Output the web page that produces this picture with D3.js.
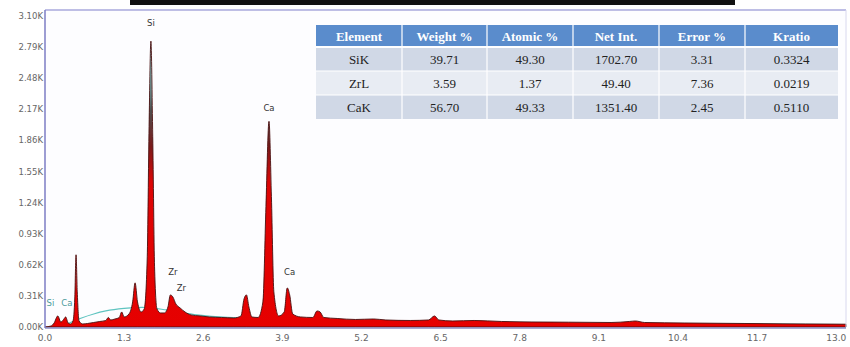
<!DOCTYPE html>
<html>
<head>
<meta charset="utf-8">
<script src="https://cdn.jsdelivr.net/npm/d3@7"></script>
<style>
  body { margin: 0; background: #fff; }
  svg { display: block; }
</style>
</head>
<body>
<svg id="chart" width="850" height="347"></svg>
<script>
// spectrum: energy (keV) and counts
var energy = [0.00, 0.10, 0.15, 0.21, 0.26, 0.30, 0.34, 0.38, 0.42, 0.46, 0.49, 0.51, 0.53, 0.56, 0.62,
  0.70, 0.80, 0.90, 1.00, 1.04, 1.08, 1.15, 1.22, 1.26, 1.30, 1.38, 1.44, 1.48, 1.52, 1.58, 1.63,
  1.68, 1.71, 1.74, 1.77, 1.80, 1.84, 1.90, 1.96, 2.02, 2.06, 2.10, 2.15, 2.22, 2.30, 2.40, 2.55,
  2.70, 2.90, 3.10, 3.22, 3.27, 3.31, 3.35, 3.40, 3.50, 3.58, 3.63, 3.68, 3.72, 3.76, 3.84, 3.93,
  3.98, 4.02, 4.07, 4.20, 4.40, 4.47, 4.52, 4.58, 4.80, 5.10, 5.40, 5.60, 6.00, 6.30, 6.40, 6.47,
  6.70, 7.05, 7.50, 8.00, 8.60, 9.30, 9.60, 9.70, 9.85, 10.5, 11.5, 12.5, 13.16];
var counts = [0, 10, 40, 110, 50, 70, 100, 40, 30, 60, 300, 720, 350, 60, 30,
  35, 45, 55, 65, 95, 70, 80, 95, 150, 100, 130, 250, 440, 250, 150, 180,
  700, 2000, 2850, 1900, 600, 180, 140, 140, 200, 320, 300, 230, 190, 150, 120, 110,
  100, 95, 90, 110, 280, 320, 200, 100, 95, 250, 1200, 2050, 1300, 350, 110, 150,
  390, 320, 130, 100, 95, 160, 150, 95, 85, 75, 80, 70, 65, 70, 110, 70,
  60, 65, 55, 50, 48, 45, 55, 60, 45, 40, 35, 30, 28];

// continuum (background fit) curve
var bgEnergy = [0.25, 0.40, 0.60, 0.80, 1.00, 1.30, 1.60, 2.00, 2.50, 3.00, 4.00, 5.00, 6.00, 8.00, 10.0, 13.16];
var bgCounts = [0, 40, 90, 130, 160, 185, 195, 170, 120, 95, 80, 65, 55, 40, 32, 25];

var yTicks = [0, 310, 620, 930, 1240, 1550, 1860, 2170, 2480, 2790, 3100];
var xTicks = [0.0, 1.3, 2.6, 3.9, 5.2, 6.5, 7.8, 9.1, 10.4, 11.7, 13.0];

// peak labels
var peakNames = ["Si", "Ca", "Zr", "Zr", "Ca", "Si", "Ca"];
var peakKeV = [1.74, 3.68, 2.10, 2.24, 4.02, 0.09, 0.36];
var peakAt = [3000, 2150, 520, 360, 520, 210, 210];

// quantification table
var tableHead = ["Element", "Weight %", "Atomic %", "Net Int.", "Error %", "Kratio"];
var tableRows = [
  ["SiK", "39.71", "49.30", "1702.70", "3.31", "0.3324"],
  ["ZrL", "3.59", "1.37", "49.40", "7.36", "0.0219"],
  ["CaK", "56.70", "49.33", "1351.40", "2.45", "0.5110"]
];

var svg = d3.select("#chart");
var plotL = 45, plotR = 846, plotT = 10, plotB = 327;

var x = d3.scaleLinear().domain([0, 13.16]).range([plotL, plotR]);
var y = d3.scaleLinear().domain([0, 3160]).range([plotB, plotT]);

// cropped title strip at the very top
svg.append("rect").attr("x", 130).attr("y", 0).attr("width", 605).attr("height", 5).attr("fill", "#111");

// plot background
svg.append("rect").attr("x", plotL).attr("y", plotT).attr("width", plotR - plotL).attr("height", plotB - plotT)
  .attr("fill", "#fdfdff");

var defs = svg.append("defs");
var grad = defs.append("linearGradient").attr("id", "specFill")
  .attr("gradientUnits", "userSpaceOnUse")
  .attr("x1", 0).attr("x2", 0).attr("y1", y(0)).attr("y2", y(3000));
[[0, "#e60000"], [0.48, "#dd0505"], [0.6, "#7a1a1a"], [0.72, "#505050"], [0.85, "#7fcfcf"], [1, "#a8ecec"]]
  .forEach(function (s) { grad.append("stop").attr("offset", s[0]).attr("stop-color", s[1]); });

var spectrum = energy.map(function (e, i) { return [e, counts[i]]; });
var background = bgEnergy.map(function (e, i) { return [e, bgCounts[i]]; });

// background curve first, spectrum drawn over it
svg.append("path")
  .datum(background)
  .attr("fill", "none")
  .attr("stroke", "#5fc4c0")
  .attr("stroke-width", 1.2)
  .attr("d", d3.line().x(function (d) { return x(d[0]); }).y(function (d) { return y(d[1]); })
    .curve(d3.curveMonotoneX));

svg.append("path")
  .datum(spectrum)
  .attr("fill", "url(#specFill)")
  .attr("stroke", "#4a1010")
  .attr("stroke-width", 0.9)
  .attr("d", d3.area().x(function (d) { return x(d[0]); }).y0(y(0)).y1(function (d) { return y(d[1]); })
    .curve(d3.curveMonotoneX));

// frame
svg.append("line").attr("x1", plotL).attr("x2", plotR).attr("y1", plotT).attr("y2", plotT)
  .attr("stroke", "#a8a8dc").attr("stroke-width", 1.5);
svg.append("line").attr("x1", plotR).attr("x2", plotR).attr("y1", plotT).attr("y2", plotB)
  .attr("stroke", "#d8d8ee").attr("stroke-width", 1);
svg.append("line").attr("x1", plotL).attr("x2", plotR).attr("y1", plotB + 1).attr("y2", plotB + 1)
  .attr("stroke", "#8c8cc4").attr("stroke-width", 1.5);
svg.append("line").attr("x1", plotL).attr("x2", plotL).attr("y1", plotT).attr("y2", plotB + 1)
  .attr("stroke", "#7c7cc4").attr("stroke-width", 1.5);

// axis labels
svg.append("g").selectAll("text").data(yTicks).enter().append("text")
  .attr("x", plotL - 2)
  .attr("y", function (d) { return y(d) + 3; })
  .attr("text-anchor", "end")
  .attr("font-family", "DejaVu Sans, sans-serif")
  .attr("font-size", "8.5px")
  .attr("fill", "#666")
  .text(function (d) { return (d / 1000).toFixed(2) + "K"; });

svg.append("g").selectAll("text").data(xTicks).enter().append("text")
  .attr("x", function (d) { return x(d); })
  .attr("y", 341)
  .attr("text-anchor", "middle")
  .attr("font-family", "DejaVu Sans, sans-serif")
  .attr("font-size", "9px")
  .attr("fill", "#666")
  .text(function (d) { return d.toFixed(1); });

// peak labels
svg.append("g").selectAll("text").data(peakNames).enter().append("text")
  .attr("x", function (d, i) { return x(peakKeV[i]); })
  .attr("y", function (d, i) { return y(peakAt[i]); })
  .attr("text-anchor", "middle")
  .attr("font-family", "DejaVu Sans, sans-serif")
  .attr("font-size", "8.5px")
  .attr("fill", function (d, i) { return i >= 5 ? "#4a9a9a" : "#333"; })
  .text(function (d) { return d; });

// table
var tx = 316, colW = [86, 85, 86, 86, 86, 93], headH = 22, rowH = 24, ty = 25;
var colX = [tx];
colW.forEach(function (w, i) { colX.push(colX[i] + w); });
var table = svg.append("g");

table.append("rect").attr("x", tx).attr("y", ty).attr("width", colX[6] - tx).attr("height", headH)
  .attr("fill", "#5a8ccc");
tableRows.forEach(function (r, ri) {
  table.append("rect").attr("x", tx).attr("y", ty + headH + ri * rowH)
    .attr("width", colX[6] - tx).attr("height", rowH)
    .attr("fill", ri % 2 === 0 ? "#d0d8e6" : "#e8ecf3");
});
// white cell separators
colX.slice(1, 6).forEach(function (cx) {
  table.append("line").attr("x1", cx).attr("x2", cx).attr("y1", ty).attr("y2", ty + headH + 3 * rowH)
    .attr("stroke", "#fff").attr("stroke-width", 1.2);
});
[0, 1, 2].forEach(function (ri) {
  var yy = ty + headH + ri * rowH;
  table.append("line").attr("x1", tx).attr("x2", colX[6]).attr("y1", yy).attr("y2", yy)
    .attr("stroke", "#fff").attr("stroke-width", ri === 0 ? 1.8 : 1.2);
});

table.selectAll("text.head").data(tableHead).enter().append("text")
  .attr("class", "head")
  .attr("x", function (d, i) { return colX[i] + colW[i] / 2; })
  .attr("y", ty + 15.5)
  .attr("text-anchor", "middle")
  .attr("font-family", "Liberation Serif, serif")
  .attr("font-weight", "bold")
  .attr("font-size", "13px")
  .attr("fill", "#fff")
  .text(function (d) { return d; });

tableRows.forEach(function (r, ri) {
  table.selectAll("text.r" + ri).data(r).enter().append("text")
    .attr("class", "r" + ri)
    .attr("x", function (d, i) { return colX[i] + colW[i] / 2; })
    .attr("y", ty + headH + ri * rowH + 16.5)
    .attr("text-anchor", "middle")
    .attr("font-family", "Liberation Serif, serif")
    .attr("font-size", "13px")
    .attr("fill", "#222")
    .text(function (d) { return d; });
});
</script>
</body>
</html>
